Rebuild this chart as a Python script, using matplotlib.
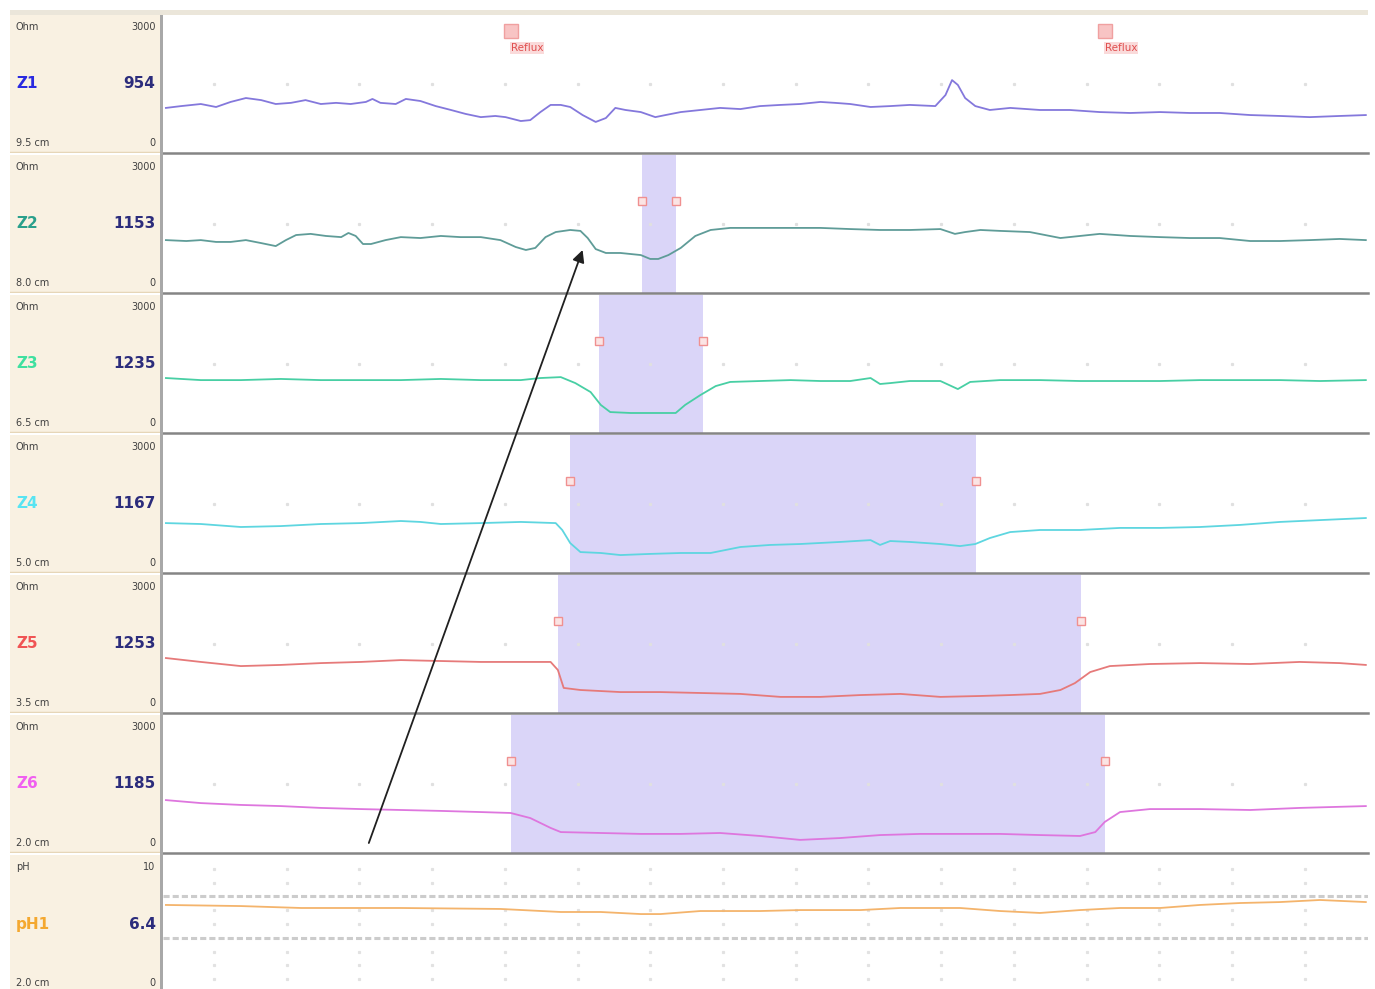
import matplotlib.pyplot as plt
from matplotlib.patches import ConnectionPatch, Rectangle

# impedance channels, time in s, impedance in Ohm (0..3000 per row)
z1_t = [0.04, 0.25, 0.52, 0.73, 0.93, 1.14, 1.35, 1.55, 1.76, 1.96, 2.17, 2.38, 2.58, 2.79, 2.88, 2.99,
        3.20, 3.34, 3.54, 3.75, 3.96, 4.16, 4.37, 4.57, 4.71, 4.92, 5.05, 5.19, 5.33, 5.47, 5.60, 5.77,
        5.95, 6.09, 6.22, 6.36, 6.57, 6.77, 6.91, 7.12, 7.39, 7.66, 7.94, 8.21, 8.49, 8.76, 9.04, 9.24,
        9.45, 9.73, 10.00, 10.27, 10.62, 10.76, 10.85, 10.93, 11.03, 11.17, 11.37, 11.65, 12.06, 12.47,
        12.88, 13.30, 13.71, 14.12, 14.53, 14.95, 15.36, 15.77, 16.18, 16.54]
z1_v = [980, 1020, 1065, 1000, 1110, 1195, 1150, 1065, 1090, 1150, 1065, 1090, 1065, 1110, 1175, 1090,
        1065, 1175, 1130, 1020, 935, 850, 780, 805, 780, 695, 715, 890, 1045, 1045, 1000, 825,
        675, 760, 980, 935, 890, 780, 825, 890, 935, 980, 955, 1020, 1045, 1065, 1110, 1090,
        1065, 1000, 1020, 1045, 1020, 1260, 1585, 1480, 1195, 1020, 935, 980, 935, 935,
        890, 870, 890, 870, 870, 825, 805, 780, 805, 825]

z2_t = [0.04, 0.32, 0.52, 0.73, 0.93, 1.14, 1.35, 1.55, 1.69, 1.83, 2.03, 2.24, 2.45, 2.55, 2.65, 2.75,
        2.86, 3.06, 3.27, 3.54, 3.82, 4.09, 4.37, 4.64, 4.85, 4.99, 5.12, 5.26, 5.40, 5.60, 5.74, 5.84,
        5.95, 6.09, 6.29, 6.57, 6.70, 6.81, 6.95, 7.12, 7.32, 7.53, 7.80, 8.21, 8.63, 9.04, 9.45, 9.86,
        10.27, 10.69, 10.89, 11.03, 11.24, 11.51, 11.92, 12.34, 12.61, 12.88, 13.30, 13.71, 14.12, 14.53,
        14.95, 15.36, 15.77, 16.18, 16.54]
z2_v = [1150, 1130, 1150, 1110, 1110, 1150, 1085, 1020, 1150, 1260, 1285, 1240, 1215, 1305, 1240, 1065,
        1065, 1150, 1215, 1195, 1240, 1215, 1215, 1150, 1000, 935, 980, 1215, 1325, 1370, 1350, 1195,
        955, 870, 870, 825, 740, 740, 825, 980, 1240, 1370, 1415, 1415, 1415, 1415, 1390, 1370,
        1370, 1390, 1285, 1325, 1370, 1350, 1325, 1195, 1240, 1285, 1240, 1215, 1195, 1195,
        1130, 1130, 1150, 1175, 1150]

z3_t = [0.04, 0.52, 1.07, 1.62, 2.17, 2.72, 3.27, 3.82, 4.37, 4.92, 5.19, 5.47, 5.67, 5.88, 6.02, 6.15,
        6.43, 6.84, 7.05, 7.18, 7.39, 7.60, 7.80, 8.21, 8.63, 9.04, 9.45, 9.73, 9.86, 10.00, 10.27, 10.69,
        10.93, 11.10, 11.51, 12.06, 12.61, 13.16, 13.71, 14.26, 14.81, 15.36, 15.91, 16.54]
z3_v = [1195, 1150, 1150, 1175, 1150, 1150, 1150, 1175, 1150, 1150, 1195, 1215, 1085, 890, 610, 455,
        435, 435, 435, 610, 825, 1020, 1110, 1130, 1150, 1130, 1130, 1195, 1065, 1085, 1130, 1130,
        955, 1110, 1150, 1150, 1130, 1130, 1130, 1150, 1150, 1150, 1130, 1150]

z4_t = [0.04, 0.52, 1.07, 1.62, 2.17, 2.72, 3.27, 3.54, 3.82, 4.37, 4.92, 5.40, 5.49, 5.60, 5.74, 6.02,
        6.29, 6.70, 7.12, 7.53, 7.94, 8.35, 8.76, 9.31, 9.73, 9.86, 10.00, 10.27, 10.69, 10.96, 11.17,
        11.37, 11.65, 12.06, 12.61, 13.16, 13.71, 14.26, 14.81, 15.36, 15.91, 16.54]
z4_v = [1085, 1065, 1000, 1020, 1065, 1085, 1130, 1110, 1065, 1085, 1110, 1085, 935, 650, 455, 435,
        390, 415, 435, 435, 565, 610, 630, 675, 715, 610, 695, 675, 630, 585, 630,
        760, 890, 935, 935, 980, 980, 1000, 1045, 1110, 1150, 1195]

z5_t = [0.04, 0.52, 1.07, 1.62, 2.17, 2.72, 3.27, 3.82, 4.37, 4.92, 5.33, 5.43, 5.51, 5.74, 6.29, 6.84,
        7.39, 7.94, 8.49, 9.04, 9.59, 10.14, 10.69, 11.24, 11.65, 12.06, 12.34, 12.54, 12.75, 13.02,
        13.57, 14.26, 14.95, 15.63, 16.18, 16.54]
z5_v = [1195, 1110, 1020, 1045, 1085, 1110, 1150, 1130, 1110, 1110, 1110, 935, 545, 500, 455, 455,
        435, 415, 350, 350, 390, 415, 350, 370, 390, 415, 500, 650, 890, 1020,
        1065, 1085, 1065, 1110, 1085, 1045]

z6_t = [0.04, 0.52, 1.07, 1.62, 2.17, 2.72, 3.27, 3.82, 4.37, 4.78, 5.05, 5.33, 5.47, 6.02, 6.57, 7.12,
        7.66, 8.21, 8.76, 9.31, 9.86, 10.41, 10.96, 11.51, 12.06, 12.61, 12.82, 12.95, 13.16, 13.57,
        14.26, 14.95, 15.63, 16.54]
z6_v = [1150, 1085, 1045, 1020, 980, 955, 935, 915, 890, 870, 760, 545, 455, 435, 415, 415,
        435, 370, 285, 325, 390, 415, 415, 415, 390, 370, 455, 675, 890, 955,
        955, 935, 980, 1020]

ph_t = [0.04, 1.07, 1.90, 3.27, 4.64, 5.47, 6.02, 6.57, 6.84, 7.39, 8.21, 8.76, 9.59, 10.14, 10.96,
        11.51, 12.06, 12.61, 13.16, 13.71, 14.26, 14.81, 15.36, 15.91, 16.54]
ph_v = [6.38, 6.30, 6.16, 6.16, 6.09, 5.87, 5.87, 5.72, 5.72, 5.94, 5.94, 6.01, 6.01, 6.16, 6.16,
        5.94, 5.80, 6.01, 6.16, 6.16, 6.38, 6.52, 6.59, 6.74, 6.59]

# bolus presence (start, end) per channel, None = no bolus
bolus = [None, (6.59, 7.05), (5.99, 7.43), (5.59, 11.18), (5.43, 12.62), (4.79, 12.95)]
reflux_t = [4.78, 12.95]

names = ['Z1', 'Z2', 'Z3', 'Z4', 'Z5', 'Z6']
readouts = ['954', '1153', '1235', '1167', '1253', '1185']
depths = ['9.5 cm', '8.0 cm', '6.5 cm', '5.0 cm', '3.5 cm', '2.0 cm']
line_colors = ['#8478dc', '#5f9c98', '#48cfa4', '#5ed6e0', '#e67a7a', '#de76de']
name_colors = ['#2a2ae0', '#2aa08c', '#40e0a0', '#58e4f2', '#f05454', '#f060f0']
t_max = 16.57

W, H = 1375, 989
fig = plt.figure(figsize=(W / 100, H / 100), dpi=100)
fig.patch.set_facecolor('white')


def px_axes(x0, y0, w, h):
    return fig.add_axes([x0 / W, 1 - (y0 + h) / H, w / W, h / H])


# top strip
fig.add_artist(Rectangle((10 / W, 1 - 15 / H), (1368 - 10) / W, 5 / H,
                         transform=fig.transFigure, color='#ebe6da', lw=0))

traces = [(z1_t, z1_v), (z2_t, z2_v), (z3_t, z3_v), (z4_t, z4_v), (z5_t, z5_v), (z6_t, z6_v)]
grid_t = [0.70 + k for k in range(16)]
axes = []
for i in range(7):
    top = 15 + 140 * i
    ax = px_axes(163, top, 1205, 138)
    lab = px_axes(10, top, 150, 138)
    lab.set_facecolor('#f9f1e2')
    lab.set_xticks([])
    lab.set_yticks([])
    for s in lab.spines.values():
        s.set_visible(False)
    lab.axhline(0, color='#e6d6b8', lw=2.5)
    ax.set_xlim(0, t_max)
    ax.set_xticks([])
    ax.set_yticks([])
    for s in ax.spines.values():
        s.set_visible(False)
    ax.spines['bottom'].set_visible(True)
    ax.spines['bottom'].set_color('#858585')
    ax.spines['bottom'].set_linewidth(1.8)

    if i < 6:
        ax.set_ylim(0, 3000)
        ax.plot(grid_t, [1500] * len(grid_t), ls='none', marker='s', ms=1.3, color='#e0e0e0')
        if bolus[i]:
            a, b = bolus[i]
            ax.axvspan(a, b, color='#dad5f8', lw=0)
            ax.plot([a, b], [2000, 2000], ls='none', marker='s', ms=6, mfc='#fbe4e4',
                    mec='#f09090', mew=1)
        t, v = traces[i]
        ax.plot(t, v, color=line_colors[i], lw=1.3)
        unit, top_lab, name, val, dep = 'Ohm', '3000', names[i], readouts[i], depths[i]
        ncol = name_colors[i]
    else:
        ax.set_ylim(0, 10)
        for lvl in [1, 2, 3, 5, 6, 8, 9]:
            ax.plot(grid_t, [lvl] * len(grid_t), ls='none', marker='s', ms=1.3, color='#e2e2e2')
        for lvl in [7, 4]:
            ax.axhline(lvl, color='#cccccc', lw=2.2, ls=(0, (2, 1)))
        ax.plot(ph_t, ph_v, color='#f4b46c', lw=1.3)
        unit, top_lab, name, val, dep = 'pH', '10', 'pH1', '6.4', '2.0 cm'
        ncol = '#f4a830'
    axes.append(ax)

    lab.text(0.04, 0.91, unit, fontsize=7, color='#404040', va='center')
    lab.text(0.97, 0.91, top_lab, fontsize=7, color='#404040', va='center', ha='right')
    lab.text(0.04, 0.5, name, fontsize=11, fontweight='bold', color=ncol, va='center')
    lab.text(0.97, 0.5, val, fontsize=11, fontweight='bold', color='#2c2c7c', va='center', ha='right')
    lab.text(0.04, 0.07, dep, fontsize=7, color='#404040', va='center')
    lab.text(0.97, 0.07, '0', fontsize=7, color='#404040', va='center', ha='right')

# left border of plot area
fig.add_artist(Rectangle((160 / W, 0), 3 / W, 1 - 15 / H, transform=fig.transFigure,
                         color='#a8a8a8', lw=0))

# reflux event marks
for t in reflux_t:
    axes[0].plot([t], [2650], ls='none', marker='s', ms=10, mfc='#f8c4c4', mec='#f0a0a0')
    axes[0].text(t, 2280, 'Reflux', fontsize=7.5, color='#e05050', ha='left', va='center',
                 bbox=dict(boxstyle='square,pad=0.1', fc='#fadada', ec='none'))

# arrow from Z6 up to Z2
arrow = ConnectionPatch(xyA=(2.83, 217), coordsA=axes[5].transData,
                        xyB=(5.77, 935), coordsB=axes[1].transData,
                        arrowstyle='-|>', mutation_scale=18, color='#202020', lw=1.3)
fig.add_artist(arrow)

fig.savefig('out.png', dpi=100, facecolor='white')
